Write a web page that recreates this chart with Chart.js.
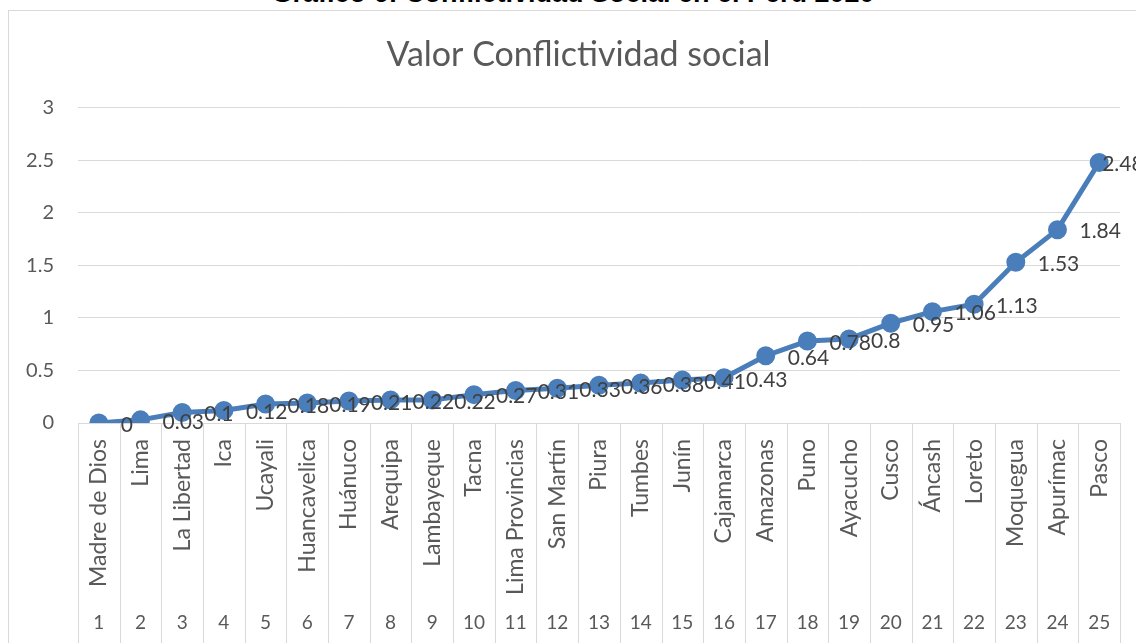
<!DOCTYPE html>
<html>
<head>
<meta charset="utf-8">
<script src="https://cdn.jsdelivr.net/npm/chart.js@4.4.1/dist/chart.umd.min.js"></script>
<style>
  html, body { margin: 0; padding: 0; overflow: hidden; background: #fff; width: 1136px; height: 643px; }
  #heading {
    position: absolute; left: 0; width: 1146px; top: -22px; line-height: 30px;
    text-align: center; font: bold 27px "Liberation Sans", Arial, sans-serif; color: #000;
  }
  #box {
    position: absolute; left: 8px; top: 10px; width: 1141px; height: 650px;
    border: 1px solid #d9d9d9; box-sizing: border-box; background: #fff;
  }
  #wrap { position: absolute; left: 0; top: 0; width: 1139px; height: 632px; }
</style>
</head>
<body>
<div id="heading">Gráfico 6: Conflictividad Social en el Perú 2020</div>
<div id="box"><div id="wrap"><canvas id="myChart"></canvas></div></div>
<script>
const regiones = ['Madre de Dios', 'Lima', 'La Libertad', 'Ica', 'Ucayali', 'Huancavelica', 'Huánuco',
    'Arequipa', 'Lambayeque', 'Tacna', 'Lima Provincias', 'San Martín', 'Piura', 'Tumbes', 'Junín',
    'Cajamarca', 'Amazonas', 'Puno', 'Ayacucho', 'Cusco', 'Áncash', 'Loreto', 'Moquegua', 'Apurímac', 'Pasco'];
const numeros = ['1', '2', '3', '4', '5', '6', '7', '8', '9', '10', '11', '12', '13', '14', '15',
    '16', '17', '18', '19', '20', '21', '22', '23', '24', '25'];
const valores = [0, 0.03, 0.1, 0.12, 0.18, 0.19, 0.21, 0.22, 0.22, 0.27, 0.31, 0.33, 0.36, 0.38, 0.41,
    0.43, 0.64, 0.78, 0.8, 0.95, 1.06, 1.13, 1.53, 1.84, 2.48];

const FONT = 'Lato, "Open Sans", sans-serif';
const GRID = '#d9d9d9';

// value labels to the right of each point, like Excel
const valueLabels = {
    id: 'valueLabels',
    afterDatasetsDraw(chart) {
        const ctx = chart.ctx;
        const meta = chart.getDatasetMeta(0);
        ctx.save();
        ctx.font = '21px ' + FONT;
        ctx.fillStyle = '#404040';
        ctx.textAlign = 'left';
        ctx.textBaseline = 'middle';
        meta.data.forEach((pt, i) => {
            const dx = i === meta.data.length - 1 ? 3 : 22;
            ctx.fillText(String(valores[i]), pt.x + dx, pt.y + 2);
        });
        ctx.restore();
    }
};

// vertical separators between categories below the plot
const separators = {
    id: 'separators',
    afterDraw(chart) {
        const x = chart.scales.x;
        const ctx = chart.ctx;
        const half = (x.getPixelForValue(1) - x.getPixelForValue(0)) / 2;
        ctx.save();
        ctx.strokeStyle = GRID;
        ctx.lineWidth = 1;
        for (let i = 0; i <= regiones.length; i++) {
            const px = Math.round(x.getPixelForValue(i) - half) + 0.5;
            ctx.beginPath();
            ctx.moveTo(px, chart.chartArea.bottom);
            ctx.lineTo(px, chart.height);
            ctx.stroke();
        }
        ctx.restore();
    }
};

var myChart = new Chart(document.getElementById('myChart').getContext('2d'), {
    type: 'line',
    data: {
        labels: regiones,
        datasets: [{
            data: valores,
            borderColor: '#4a7ebb',
            backgroundColor: '#4a7ebb',
            borderWidth: 5,
            pointRadius: 7,
            pointHoverRadius: 7,
            tension: 0
        }]
    },
    options: {
        responsive: true,
        maintainAspectRatio: false,
        animation: false,
        layout: { padding: 0 },
        plugins: {
            legend: { display: false },
            tooltip: { enabled: false },
            title: {
                display: true,
                text: 'Valor Conflictividad social',
                color: '#595959',
                font: { family: FONT, size: 34, weight: 'normal' },
                padding: { top: 24, bottom: 32 }
            }
        },
        scales: {
            x: {
                offset: true,
                weight: 0,
                grid: { display: false },
                border: { display: true, color: GRID },
                ticks: {
                    autoSkip: false,
                    minRotation: 90,
                    maxRotation: 90,
                    padding: 8,
                    color: '#595959',
                    font: { family: FONT, size: 23 }
                },
                afterFit(scale) { scale.height = 174; }
            },
            x2: {
                type: 'category',
                labels: numeros,
                position: 'bottom',
                offset: true,
                weight: 1,
                grid: { display: false },
                border: { display: false },
                ticks: {
                    autoSkip: false,
                    maxRotation: 0,
                    padding: 6,
                    color: '#595959',
                    font: { family: FONT, size: 19 }
                },
                afterFit(scale) { scale.height = 46; }
            },
            y: {
                min: 0,
                max: 3,
                ticks: {
                    stepSize: 0.5,
                    padding: 24,
                    color: '#595959',
                    font: { family: FONT, size: 20 },
                    callback: (v) => String(v)
                },
                grid: { color: GRID, drawTicks: false },
                border: { display: false },
                afterFit(scale) { scale.width = 69; }
            },
            // empty right margin so the title stays centred on the whole box
            yRight: {
                position: 'right',
                grid: { display: false },
                border: { display: false },
                ticks: { display: false },
                afterFit(scale) { scale.width = 28; }
            }
        }
    },
    plugins: [valueLabels, separators]
});
</script>
</body>
</html>
